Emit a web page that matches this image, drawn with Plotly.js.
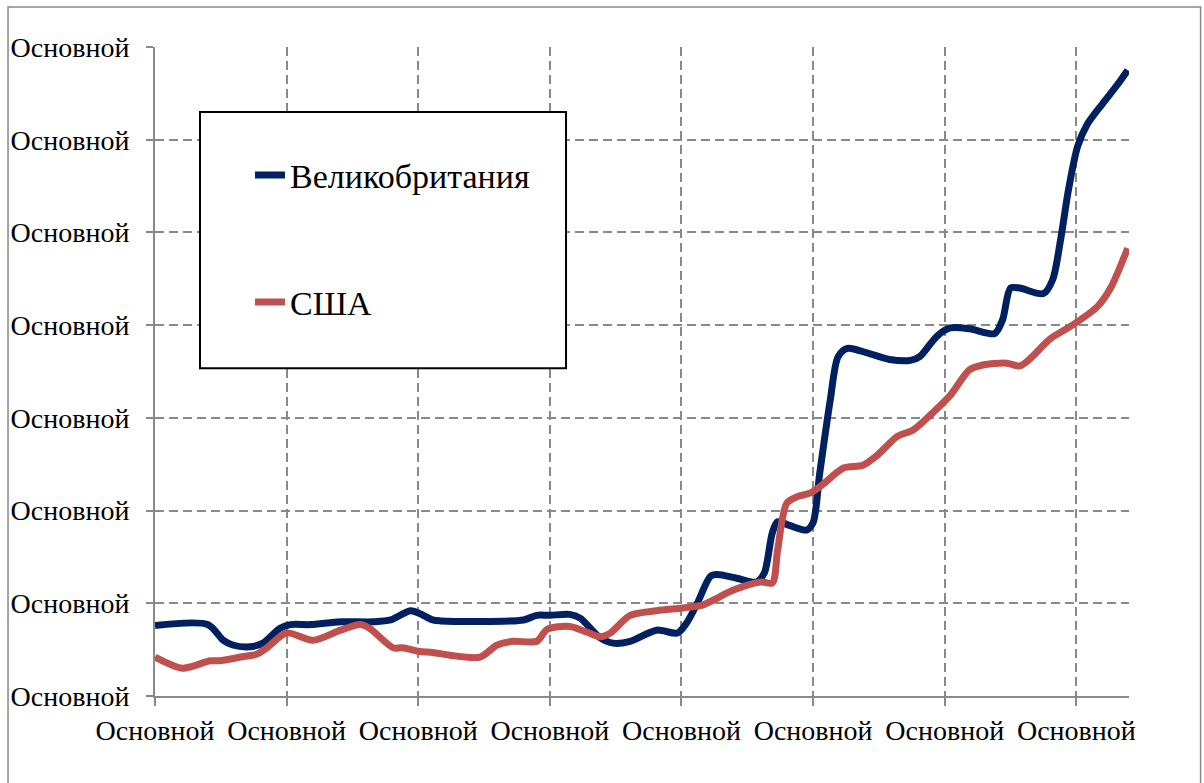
<!DOCTYPE html>
<html>
<head>
<meta charset="utf-8">
<script src="https://cdn.plot.ly/plotly-3.0.1.min.js"></script>
<style>
html,body{margin:0;padding:0;background:#fff;}
#chart{width:1204px;height:783px;}
</style>
</head>
<body>
<div id="chart"></div>
<script>
// Category tick positions and labels
var tickPositions = [0, 10, 20, 30, 40, 50, 60, 70];
var tickLabels = ["Основной","Основной","Основной","Основной","Основной","Основной","Основной","Основной"];
var yTickValues = [0, 1, 2, 3, 4, 5, 6, 7];
var yTickLabels = ["Основной","Основной","Основной","Основной","Основной","Основной","Основной","Основной"];

// Series: Великобритания
var ukX = [0, 4.0, 5.2, 5.9, 7.2, 8.2, 9.5, 10.3, 11.8, 14.1, 16.6, 17.9, 19.4, 20.1, 21.1, 21.7, 28.0, 29.0, 30.0, 31.5, 32.3, 33.8, 34.8, 36.1, 38.1, 39.7, 40.4, 41.2, 42.2, 42.7, 44.2, 45.7, 46.3, 46.9, 47.3, 48.2, 49.5, 50.0, 50.5, 51.3, 51.9, 52.6, 54.1, 55.8, 57.4, 58.1, 59.4, 60.4, 61.9, 63.8, 64.4, 65.0, 65.7, 67.5, 68.2, 68.8, 69.4, 70.1, 70.8, 72.0, 73.1, 73.9];
var ukY = [0.76, 0.77, 0.60, 0.55, 0.53, 0.57, 0.73, 0.77, 0.77, 0.80, 0.80, 0.82, 0.92, 0.89, 0.82, 0.81, 0.82, 0.87, 0.87, 0.88, 0.84, 0.63, 0.57, 0.59, 0.71, 0.68, 0.79, 1.00, 1.29, 1.31, 1.27, 1.23, 1.33, 1.76, 1.88, 1.84, 1.79, 1.87, 2.40, 3.19, 3.66, 3.75, 3.70, 3.63, 3.62, 3.66, 3.88, 3.97, 3.96, 3.91, 4.06, 4.40, 4.40, 4.34, 4.49, 4.92, 5.46, 5.93, 6.16, 6.39, 6.59, 6.75];

// Series: США
var usX = [0, 2.1, 4.2, 4.9, 6.5, 7.7, 8.5, 10.0, 12.0, 14.1, 15.6, 16.3, 18.1, 18.8, 20.1, 21.1, 22.4, 24.7, 26.0, 27.2, 29.0, 29.8, 31.5, 32.8, 33.8, 34.6, 36.1, 38.1, 40.1, 41.6, 42.9, 43.9, 46.0, 46.9, 47.3, 48.0, 48.8, 49.8, 50.8, 52.3, 53.8, 54.9, 56.4, 57.6, 58.9, 60.4, 61.9, 62.9, 64.7, 65.7, 66.5, 68.0, 69.7, 71.6, 72.6, 73.9];
var usY = [0.42, 0.30, 0.38, 0.38, 0.42, 0.45, 0.52, 0.68, 0.60, 0.71, 0.77, 0.73, 0.52, 0.52, 0.48, 0.47, 0.44, 0.42, 0.55, 0.59, 0.59, 0.72, 0.75, 0.69, 0.64, 0.68, 0.87, 0.92, 0.95, 0.98, 1.07, 1.14, 1.23, 1.22, 1.57, 2.08, 2.15, 2.19, 2.29, 2.46, 2.49, 2.60, 2.80, 2.87, 3.03, 3.24, 3.52, 3.57, 3.59, 3.56, 3.64, 3.85, 4.00, 4.20, 4.40, 4.83];

var seriesNames = ["Великобритания", "США"];

var FONT = "Liberation Serif, DejaVu Serif, serif";
var GRID = "#898989";

var traces = [
  {x: ukX, y: ukY, name: seriesNames[0], type: "scatter", mode: "lines",
   line: {color: "#002060", width: 7, shape: "spline", smoothing: 0.8},
   legendgroup: "a", hoverinfo: "skip"},
  {x: usX, y: usY, name: seriesNames[1], type: "scatter", mode: "lines",
   line: {color: "#C0504D", width: 7, shape: "spline", smoothing: 0.8},
   legendgroup: "b", hoverinfo: "skip"}
];

var layout = {
  width: 1204, height: 783,
  margin: {l: 155, r: 75, t: 47, b: 87, pad: 0},
  paper_bgcolor: "#ffffff", plot_bgcolor: "#ffffff",
  font: {family: FONT, size: 28, color: "#000"},
  showlegend: true,
  legend: {
    x: 0.0975, y: 0.847, xanchor: "left", yanchor: "top",
    bgcolor: "rgba(0,0,0,0)", borderwidth: 0,
    font: {family: FONT, size: 34, color: "#000"},
    traceorder: "grouped", tracegroupgap: 80
  },
  xaxis: {
    range: [0, 74], tickmode: "array", tickvals: tickPositions, ticktext: tickLabels,
    showgrid: true, gridcolor: GRID, gridwidth: 2, griddash: "9px,5px",
    showline: true, linecolor: GRID, linewidth: 2,
    ticks: "outside", ticklen: 8, tickwidth: 2, tickcolor: GRID,
    ticklabelstandoff: 0,
    zeroline: false, fixedrange: true,
    tickfont: {family: FONT, size: 28, color: "#000"}
  },
  yaxis: {
    range: [0, 7], tickmode: "array", tickvals: yTickValues, ticktext: yTickLabels,
    showgrid: true, gridcolor: GRID, gridwidth: 2, griddash: "9px,5px",
    showline: true, linecolor: GRID, linewidth: 2,
    ticks: "outside", ticklen: 7, tickwidth: 2, tickcolor: GRID,
    ticklabelstandoff: 11,
    zeroline: false, fixedrange: true,
    tickfont: {family: FONT, size: 28, color: "#000"}
  },
  shapes: [
    // legend box
    {type: "rect", xref: "paper", yref: "paper", x0: 0.0462, x1: 0.422, y0: 0.505, y1: 0.900,
     line: {color: "#000", width: 2}, fillcolor: "#fff", layer: "above"},
    // chart outer border
    {type: "rect", xref: "paper", yref: "paper", x0: -0.1509, x1: 1.0735, y0: -0.16, y1: 1.0616,
     line: {color: "#898989", width: 1.5}, fillcolor: "rgba(0,0,0,0)", layer: "below"}
  ]
};

Plotly.newPlot("chart", traces, layout, {displayModeBar: false, staticPlot: true});
</script>
</body>
</html>
